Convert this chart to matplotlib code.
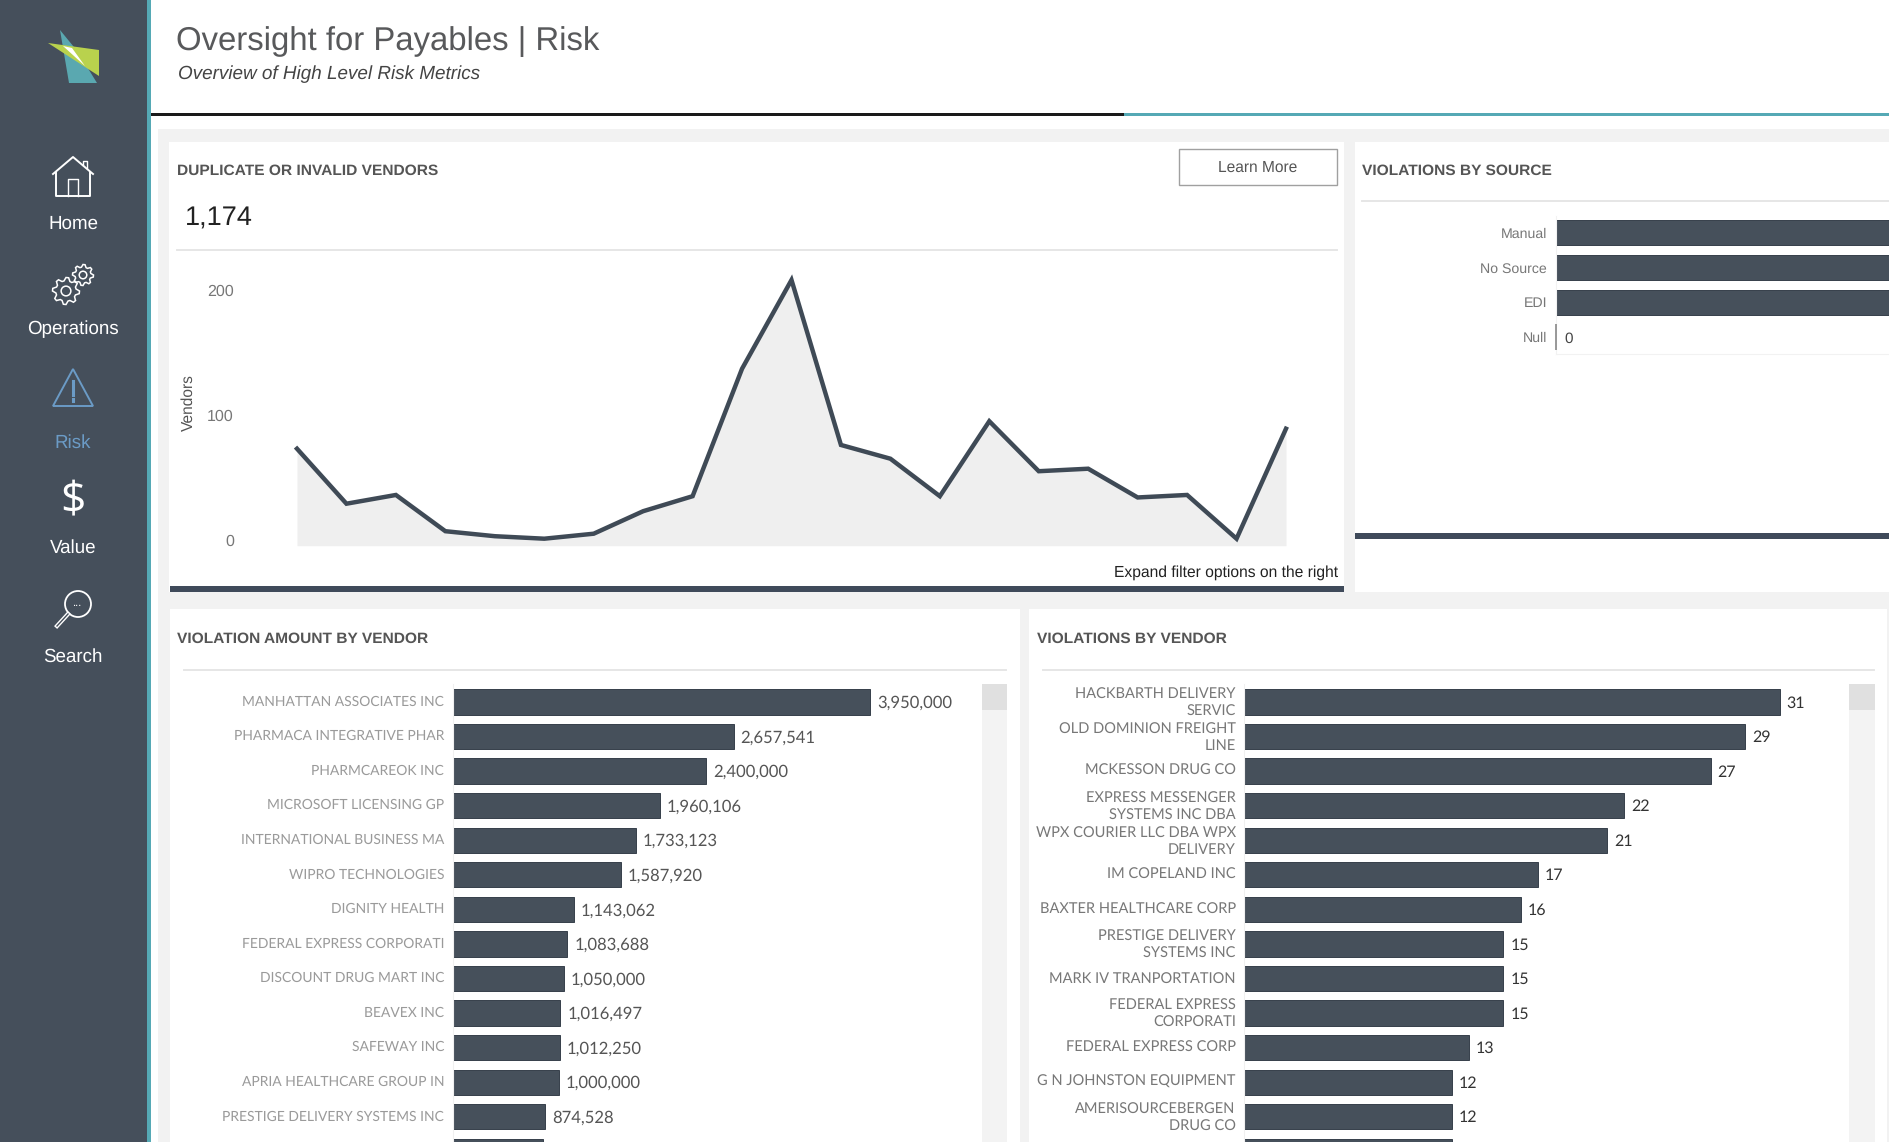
import numpy as np
import matplotlib
matplotlib.use("Agg")
import matplotlib.pyplot as plt
from matplotlib.patches import Rectangle, Polygon, Circle
from matplotlib.transforms import ScaledTranslation

plt.rcParams['font.family'] = ['Liberation Sans', 'DejaVu Sans']
plt.rcParams['text.hinting'] = 'no_hinting'

W, H = 1890, 1142

# top line chart
trend_values = [73, 29, 36, 7, 3, 1, 5, 23, 35, 137, 208, 76, 65, 35, 95, 55, 57, 34, 36, 1, 89]
trend_ticks = [0, 100, 200]

# violations by source (bars run off the right edge of the picture)
source_names = ["Manual", "No Source", "EDI", "Null"]
source_values = [300, 290, 280, 0]

# violation amount by vendor
amount_vendors = ["MANHATTAN ASSOCIATES INC", "PHARMACA INTEGRATIVE PHAR", "PHARMCAREOK INC",
                  "MICROSOFT LICENSING GP", "INTERNATIONAL BUSINESS MA", "WIPRO TECHNOLOGIES",
                  "DIGNITY HEALTH", "FEDERAL EXPRESS CORPORATI", "DISCOUNT DRUG MART INC",
                  "BEAVEX INC", "SAFEWAY INC", "APRIA HEALTHCARE GROUP IN",
                  "PRESTIGE DELIVERY SYSTEMS INC", ""]
amount_values = [3950000, 2657541, 2400000, 1960106, 1733123, 1587920, 1143062,
                 1083688, 1050000, 1016497, 1012250, 1000000, 874528, 857000]

# violations by vendor
count_vendors = ["HACKBARTH DELIVERY\nSERVIC", "OLD DOMINION FREIGHT\nLINE", "MCKESSON DRUG CO",
                 "EXPRESS MESSENGER\nSYSTEMS INC DBA", "WPX COURIER LLC DBA WPX\nDELIVERY",
                 "IM COPELAND INC", "BAXTER HEALTHCARE CORP", "PRESTIGE DELIVERY\nSYSTEMS INC",
                 "MARK IV TRANPORTATION", "FEDERAL EXPRESS\nCORPORATI", "FEDERAL EXPRESS CORP",
                 "G N JOHNSTON EQUIPMENT", "AMERISOURCEBERGEN\nDRUG CO", ""]
count_values = [31, 29, 27, 22, 21, 17, 16, 15, 15, 15, 13, 12, 12, 12]

nav_items = ["Home", "Operations", "Risk", "Value", "Search"]
nav_y = [224, 329, 443, 548, 657]

SIDE = '#454f5b'
TEAL = '#55a9b5'
GREY = '#f2f2f2'
BAR = '#46505b'
RISK = '#6b9bc6'

fig = plt.figure(figsize=(W / 100, H / 100), dpi=100, facecolor='white')

# pixel canvas for the page furniture
ui = fig.add_axes([0, 0, 1, 1])
ui.set_xlim(0, W)
ui.set_ylim(H, 0)
ui.axis('off')


def box(x0, y0, x1, y1, color, **kw):
    ui.add_patch(Rectangle((x0, y0), x1 - x0, y1 - y0, facecolor=color, edgecolor='none', **kw))


def ax_px(x0, y0, x1, y1):
    a = fig.add_axes([x0 / W, 1 - y1 / H, (x1 - x0) / W, (y1 - y0) / H])
    a.patch.set_alpha(0)
    return a


def gear(cx, cy, r, teeth=8):
    pts = []
    for i in range(teeth * 4):
        ang = 2 * np.pi * i / (teeth * 4)
        rad = r if i % 4 < 2 else r * 0.76
        pts.append((cx + rad * np.cos(ang), cy + rad * np.sin(ang)))
    ui.add_patch(Polygon(pts, closed=True, fill=False, edgecolor='white', lw=1.1))
    ui.add_patch(Circle((cx, cy), r * 0.36, fill=False, edgecolor='white', lw=1.1))


# backgrounds
box(158, 129, W, H, GREY)
box(0, 0, 147, H, SIDE)
box(147, 0, 151, H, TEAL)
box(169, 142, 1344, 592, 'white')
box(1355, 142, W, 592, 'white')
box(170, 609, 1020, H, 'white')
box(1029, 609, 1887, H, 'white')

# header
ui.text(176, 42, "Oversight for Payables | Risk", fontsize=23.7, color='#58595b', va='center')
ui.text(178, 74, "Overview of High Level Risk Metrics", fontsize=13.6, style='italic', color='#444444', va='center')
box(151, 112.5, 1124, 115.5, '#1a1a1a')
box(1124, 112.5, W, 115.5, TEAL)

# logo
ui.add_patch(Polygon([(60, 30), (69, 83), (97, 83), (78, 52)], facecolor='#5aa8b0', edgecolor='none'))
ui.add_patch(Polygon([(48, 43), (99, 50), (99, 76)], facecolor='#b9d24d', edgecolor='none'))
ui.add_patch(Polygon([(63, 46), (72, 48), (85, 66)], facecolor='white', edgecolor='none'))

# nav labels
for name, y in zip(nav_items, nav_y):
    ui.text(73, y, name, fontsize=13.5, color=RISK if name == "Risk" else 'white', ha='center', va='center')

# home icon
ui.plot([53, 73, 93], [174, 157, 174], color='white', lw=1.4)
ui.plot([56, 56, 90, 90], [172, 196, 196, 172], color='white', lw=1.4)
ui.plot([68, 68, 78, 78], [196, 179, 179, 196], color='white', lw=1)
ui.plot([83, 83, 87, 87], [165, 161, 161, 168], color='white', lw=1)

# gears
gear(66, 291, 13.5)
gear(83, 275, 10.5)

# warning triangle
ui.add_patch(Polygon([(73, 369), (53, 406), (93, 406)], closed=True, fill=False, edgecolor=RISK, lw=1.4))
ui.plot([73, 73], [381, 395], color=RISK, lw=2.2)
ui.plot([73, 73], [399, 401], color=RISK, lw=2.2)

# dollar and magnifier
ui.text(73, 501, "$", fontsize=32, color='white', ha='center', va='center', family='Open Sans')
ui.add_patch(Circle((78, 604), 13, fill=False, edgecolor='white', lw=1.3))
ui.plot([68, 57], [614, 626], color='white', lw=3)
ui.plot([68, 57], [614, 626], color=SIDE, lw=1)
ui.text(78, 603, "...", fontsize=8, color='white', ha='center', va='center')

# panel titles and dividers
for x, y, t in [(177, 171, "DUPLICATE OR INVALID VENDORS"), (1362, 171, "VIOLATIONS BY SOURCE"),
                (177, 639, "VIOLATION AMOUNT BY VENDOR"), (1037, 639, "VIOLATIONS BY VENDOR")]:
    ui.text(x, y, t, fontsize=11.15, weight='bold', color='#555555', va='center')
for x0, x1, y in [(177, 1337, 249.5), (1362, W, 201), (184, 1006, 669.5), (1043, 1874, 669.5)]:
    ui.plot([x0, x1], [y, y], color='#e6e6e6', lw=1.4)

ui.text(184.5, 219, "1,174", fontsize=19.5, color='#222222', va='center')
ui.add_patch(Rectangle((1179, 149), 158, 36, facecolor='white', edgecolor='#a0a0a0', lw=1))
ui.text(1258, 168, "Learn More", fontsize=11.2, color='#555555', ha='center', va='center')
ui.text(1338, 573, "Expand filter options on the right", fontsize=11.25, color='#222222', ha='right', va='center')
ui.text(189, 403, "Vendors", fontsize=11.2, color='#555555', rotation=90, ha='center', va='center')

box(170, 586, 1344, 592, '#3f4a5a')
box(1355, 533, W, 539, '#3f4a5a')

# scroll bars
box(982, 684, 1007, H, '#f3f3f3')
box(982, 684, 1007, 710, '#e0e0e0')
box(1849, 684, 1875, H, '#f3f3f3')
box(1849, 684, 1875, 710, '#e0e0e0')

# line chart
ax = ax_px(297, 260, 1286, 545.7)
xs = np.arange(len(trend_values))
ax.fill_between(xs, trend_values, -4.6, color='#efefef', lw=0)
ax.plot(xs, trend_values, color='#3f4a56', lw=3.2, solid_joinstyle='miter', clip_on=False)
ax.set_xlim(0, 20)
ax.set_yticks(trend_ticks)
ax.set_yticklabels([str(t) for t in trend_ticks], fontsize=11.5, color='#777777')
ax.set_ylim(-4.6, 224)
ax.tick_params(axis='y', length=0, pad=45.5)
ax.set_xticks([])
for s in ax.spines.values():
    s.set_visible(False)


def vendor_bars(a, names, values, xmax, fmt, label_color, tick_color, fontsize, value_size):
    rows = np.arange(len(values))
    a.barh(rows, values, height=0.73, color=BAR, edgecolor='#363f4a', lw=0.7)
    a.set_xlim(0, xmax)
    a.set_yticks(rows)
    a.set_yticklabels(names, fontsize=fontsize, color=tick_color, family=['Lato', 'Liberation Sans'], linespacing=1.28)
    a.set_ylim(12.73, -0.52)
    a.tick_params(axis='y', length=0, pad=6.3)
    a.set_xticks([])
    # labels sit a touch above the bar centre
    up = ScaledTranslation(0, 1.5 / 100, fig.dpi_scale_trans)
    for lab in a.get_yticklabels():
        lab.set_transform(lab.get_transform() + up)
    for s in a.spines.values():
        s.set_visible(False)
    a.spines['left'].set_visible(True)
    a.spines['left'].set_color('#f0f0f0')
    for r, v in zip(rows[:-1], values[:-1]):
        a.annotate(fmt(v), (v, r + 0.03), xytext=(5, 0), textcoords='offset points', va='center',
                   fontsize=value_size, color=label_color, family=['Lato', 'Liberation Sans'])


# violations by source
ax2 = ax_px(1556.5, 216, W, 354)
rows = np.arange(len(source_values))
ax2.barh(rows, source_values, height=0.73, color=BAR, edgecolor='#363f4a', lw=0.7)
ax2.vlines(source_values[3], 2.63, 3.37, color='#888888', lw=1.2, clip_on=False, zorder=5)
ax2.set_xlim(0, 270)
ax2.set_yticks(rows)
ax2.set_yticklabels(source_names, fontsize=10.2, color='#777777')
ax2.set_ylim(3.48, -0.48)
ax2.tick_params(axis='y', length=0, pad=6.8)
ax2.set_xticks([])
for s in ax2.spines.values():
    s.set_visible(False)
ax2.spines['bottom'].set_visible(True)
ax2.spines['bottom'].set_color('#f2f2f2')
ax2.spines['left'].set_visible(True)
ax2.spines['left'].set_color('#f2f2f2')
ax2.annotate(str(source_values[3]), (source_values[3], 3.05), xytext=(6, 0), textcoords='offset points',
             va='center', fontsize=11, color='#444444')

# vendor charts
ax3 = ax_px(453, 684, 978, H)
vendor_bars(ax3, amount_vendors, amount_values, 525 * 3950000 / 417, lambda v: f"{v:,}", '#555555', '#9a9a9a', 10, 12)

ax4 = ax_px(1244.5, 684, 1844, H)
vendor_bars(ax4, count_vendors, count_values, 599.5 / 17.26, str, '#333333', '#777777', 10.55, 11.5)

fig.savefig("out.png", dpi=100, facecolor='white')
